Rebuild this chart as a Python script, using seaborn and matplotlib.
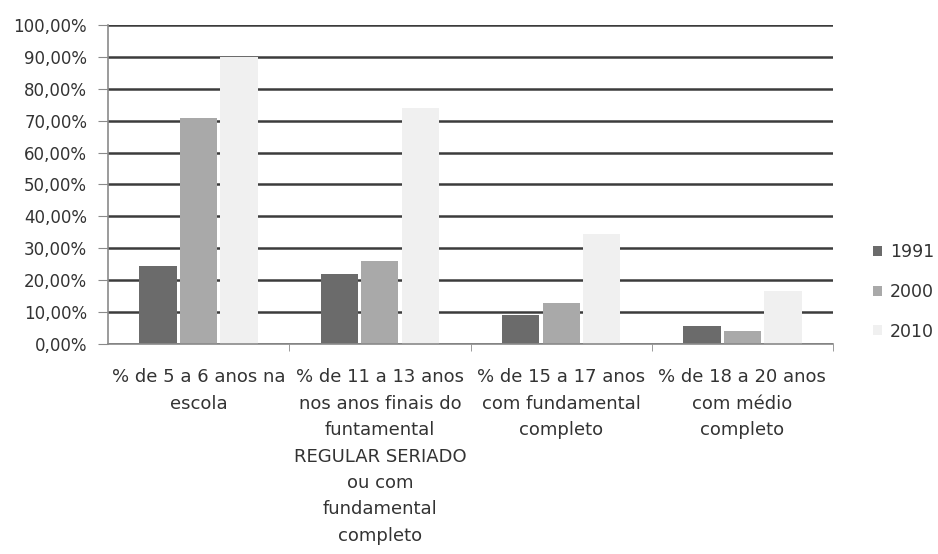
import matplotlib
matplotlib.use("Agg")
import matplotlib.pyplot as plt
from matplotlib.ticker import FuncFormatter
import seaborn as sns
import pandas as pd

categories = [
    "% de 5 a 6 anos na\nescola",
    "% de 11 a 13 anos\nnos anos finais do\nfuntamental\nREGULAR SERIADO\nou com\nfundamental\ncompleto",
    "% de 15 a 17 anos\ncom fundamental\ncompleto",
    "% de 18 a 20 anos\ncom médio\ncompleto",
]
years = ["1991", "2000", "2010"]
values_1991 = [24.4, 22.0, 9.0, 5.5]
values_2000 = [70.9, 26.0, 13.0, 4.0]
values_2010 = [89.8, 74.0, 34.5, 16.5]
colors = ["#6b6b6b", "#a9a9a9", "#f0f0f0"]

df = pd.DataFrame({
    "categoria": categories * 3,
    "ano": [y for y in years for _ in categories],
    "valor": values_1991 + values_2000 + values_2010,
})

sns.set_style("white")
plt.rcParams["font.family"] = ["DejaVu Sans"]

fig = plt.figure(figsize=(9.38, 5.54), dpi=100)
ax = fig.add_axes([0.1151, 0.379, 0.773, 0.576])

sns.barplot(data=df, x="categoria", y="valor", hue="ano", order=categories,
            hue_order=years, palette=colors, width=0.67, gap=0.08,
            edgecolor="none", linewidth=0, saturation=1, ax=ax, zorder=3)

ax.set_ylim(0, 100)
ax.set_yticks(range(0, 101, 10))
ax.yaxis.set_major_formatter(FuncFormatter(lambda v, p: f"{v:.2f}%".replace(".", ",")))
ax.set_xlim(-0.5, 3.5)
ax.grid(axis="y", color="#3c3c3c", linewidth=1.8, zorder=0)
ax.set_axisbelow(True)
ax.set_xlabel("")
ax.set_ylabel("")

for side in ["top", "right"]:
    ax.spines[side].set_visible(False)
for side in ["left", "bottom"]:
    ax.spines[side].set_color("#8a8a8a")
    ax.spines[side].set_linewidth(1.2)
ax.spines["bottom"].set_zorder(4)

ax.tick_params(axis="y", left=True, length=7, color="#8a8a8a", labelsize=12,
               labelcolor="#333333", pad=8)
ax.set_xticks([0, 1, 2, 3])
ax.set_xticklabels(categories, fontsize=13, color="#333333", linespacing=1.6)
ax.tick_params(axis="x", bottom=False, pad=14)
# Category boundary ticks along the base line
ax.set_xticks([0.5, 1.5, 2.5, 3.5], minor=True)
ax.tick_params(axis="x", which="minor", bottom=True, length=5, color="#8a8a8a")

leg = ax.legend(loc="center left", bbox_to_anchor=(1.034, 0.163), frameon=False,
                fontsize=12.5, handlelength=0.5, handleheight=0.5,
                handletextpad=0.45, labelspacing=1.24)
for t in leg.get_texts():
    t.set_color("#333333")

fig.savefig("out.png", dpi=100, facecolor="white")
